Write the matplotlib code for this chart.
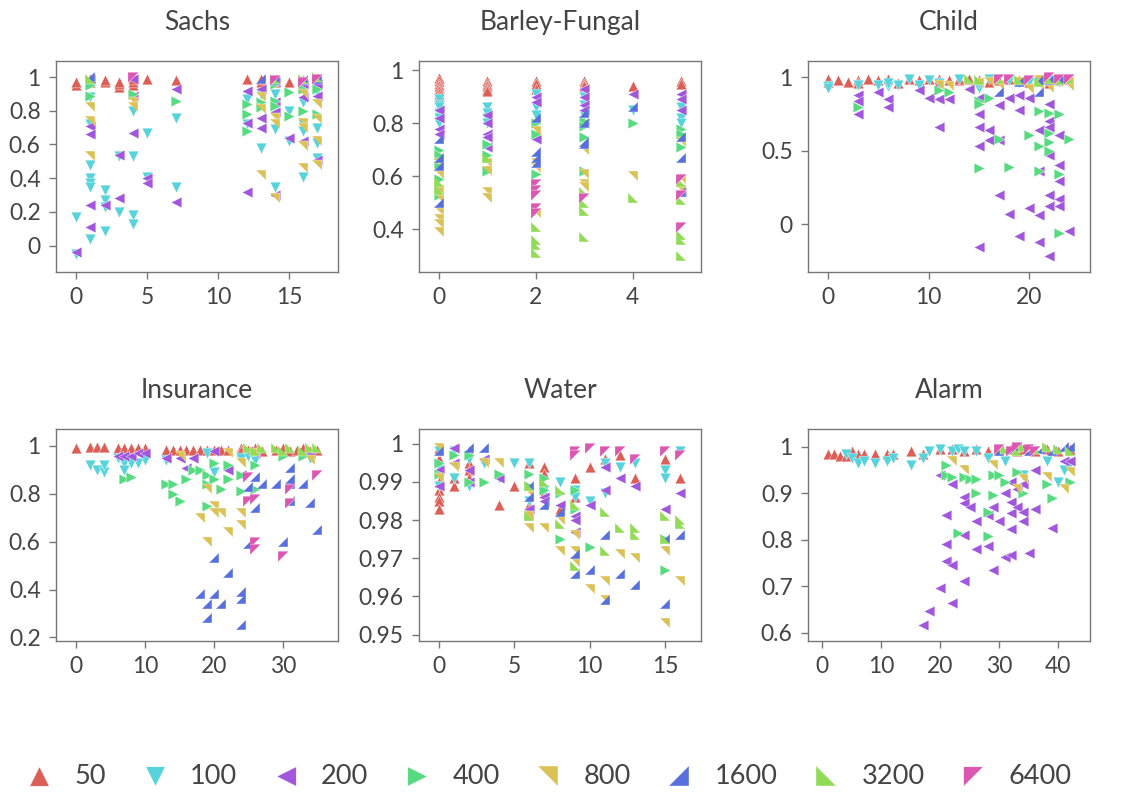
import matplotlib
matplotlib.use('Agg')
import matplotlib.pyplot as plt
import seaborn as sns

# sample sizes and their colours / markers
sizes = [50, 100, 200, 400, 800, 1600, 3200, 6400]
hls = sns.color_palette("hls", 8)
colors = [hls[i] for i in [0, 4, 6, 3, 1, 5, 2, 7]]
markers = ['^', 'v', '<', '>',
           [(-1, 1), (1, 1), (1, -1)],
           [(-1, -1), (1, -1), (1, 1)],
           [(-1, 1), (-1, -1), (1, -1)],
           [(-1, 1), (1, 1), (-1, -1)]]

titles = ['Sachs', 'Barley-Fungal', 'Child', 'Insurance', 'Water', 'Alarm']

# each series: list of (x, [y values])
sachs = {
    50: [(0, [0.95, 0.97]), (1, [0.97, 0.99]), (2, [0.97, 0.98]), (3, [0.94, 0.96, 0.97]), (4, [0.95, 0.97, 0.99]),
         (5, [0.99]), (7, [0.98]), (12, [0.99]), (13, [0.97, 0.99]), (14, [0.97, 0.98]), (15, [0.97]),
         (16, [0.96, 0.98]), (17, [0.95, 0.98])],
    100: [(0, [0.17, -0.05]), (1, [0.88, 0.72, 0.48, 0.40, 0.37, 0.35, 0.04]), (2, [0.33, 0.27, 0.23, 0.09]),
          (3, [0.53, 0.20]), (4, [0.80, 0.53, 0.18, 0.13]), (5, [0.67, 0.41]), (7, [0.76, 0.35]),
          (12, [0.87, 0.72]), (13, [0.90, 0.58]), (14, [0.90, 0.69, 0.35]), (15, [0.80, 0.62]),
          (16, [0.85, 0.72, 0.68, 0.41]), (17, [0.92, 0.70, 0.61, 0.52])],
    200: [(0, [-0.04]), (1, [0.99, 0.71, 0.66, 0.24, 0.11]), (2, [0.24]), (3, [0.54, 0.28]), (4, [0.99, 0.89, 0.67]),
          (5, [0.40, 0.37]), (7, [0.93, 0.26]), (12, [0.92, 0.73, 0.32]), (13, [0.93, 0.76, 0.70]),
          (14, [0.97, 0.85, 0.79, 0.30]), (15, [0.64]), (16, [0.95, 0.88, 0.62]), (17, [0.96, 0.89, 0.51])],
    400: [(1, [0.95, 0.89]), (4, [0.90]), (7, [0.86]), (12, [0.84, 0.78, 0.68]), (13, [0.85, 0.82]),
          (14, [0.96, 0.86, 0.83]), (15, [0.91, 0.77]), (16, [0.93, 0.80]), (17, [0.93, 0.78])],
    800: [(1, [0.82, 0.74, 0.53]), (4, [0.85, 0.82]), (13, [0.88, 0.81, 0.42]), (14, [0.76, 0.72, 0.28]),
          (16, [0.90, 0.73, 0.70, 0.59, 0.46]), (17, [0.84, 0.75, 0.62, 0.48])],
    1600: [(1, [1.0]), (13, [0.99]), (14, [0.98]), (16, [0.98]), (17, [0.99])],
    3200: [(1, [0.99]), (14, [0.99]), (16, [0.99]), (17, [1.0])],
    6400: [(4, [1.0]), (14, [0.98]), (16, [0.97]), (17, [0.99])],
}

barley = {
    50: [(0, [0.97, 0.96, 0.95, 0.94, 0.93, 0.92, 0.91, 0.90]), (1, [0.96, 0.95, 0.94, 0.93, 0.92]),
         (2, [0.96, 0.95, 0.93]), (3, [0.96, 0.95, 0.94]), (4, [0.94]), (5, [0.96, 0.95])],
    100: [(0, [0.89, 0.87, 0.86, 0.84, 0.82, 0.80]), (1, [0.86, 0.84, 0.82, 0.80]), (2, [0.91, 0.86, 0.83, 0.75]),
          (3, [0.90, 0.87, 0.83]), (4, [0.85]), (5, [0.86, 0.82, 0.80])],
    200: [(0, [0.85, 0.82, 0.78, 0.76]), (1, [0.83, 0.80, 0.76, 0.75, 0.71]), (2, [0.90, 0.88, 0.74]),
          (3, [0.93, 0.90, 0.87, 0.85, 0.80]), (4, [0.91]), (5, [0.91, 0.89, 0.85, 0.54])],
    400: [(0, [0.70, 0.68, 0.64, 0.59, 0.56, 0.53]), (1, [0.72, 0.68, 0.62]), (2, [0.80, 0.76, 0.61]),
          (3, [0.81, 0.79, 0.75, 0.62]), (4, [0.80]), (5, [0.78, 0.76, 0.71])],
    800: [(0, [0.65, 0.61, 0.55, 0.52, 0.47, 0.44, 0.42, 0.39]), (1, [0.65, 0.62, 0.54, 0.52]),
          (2, [0.77, 0.65, 0.63, 0.46]), (3, [0.70, 0.61, 0.57, 0.56]), (4, [0.60]), (5, [0.73, 0.59, 0.55])],
    1600: [(0, [0.74, 0.67, 0.64, 0.50]), (2, [0.82, 0.69, 0.67, 0.65]), (3, [0.84, 0.80, 0.73, 0.72]),
           (4, [0.86]), (5, [0.75, 0.67, 0.54])],
    3200: [(0, [0.58, 0.55]), (1, [0.67]), (2, [0.41, 0.36, 0.34, 0.31]), (3, [0.54, 0.50, 0.47, 0.37]),
           (4, [0.52]), (5, [0.58, 0.51, 0.38, 0.36, 0.30])],
    6400: [(2, [0.57, 0.55, 0.53, 0.48, 0.46]), (3, [0.52]), (5, [0.59, 0.53, 0.41])],
}

child = {
    50: [(0, [0.97, 0.99]), (1, [0.98]), (2, [0.97]), (3, [0.98, 0.96]), (4, [0.99]), (5, [0.98]), (6, [0.99]),
         (7, [0.96]), (8, [0.99]), (9, [0.98]), (10, [0.99]), (11, [0.99, 0.97]), (12, [0.98]),
         (13, [0.98, 0.99]), (14, [0.99]), (15, [0.98]), (16, [0.97]), (17, [0.98]), (18, [0.99]),
         (19, [0.98]), (20, [0.97]), (21, [0.98]), (22, [0.99, 0.96]), (23, [0.98]), (24, [0.99])],
    100: [(0, [0.94, 0.93]), (3, [0.95]), (5, [0.95]), (6, [0.94, 0.96]), (7, [0.95]), (8, [0.99]), (9, [0.95]),
          (10, [0.98]), (11, [0.96]), (13, [0.99]), (15, [0.93, 0.96]), (16, [0.99]), (18, [0.98]),
          (19, [0.96]), (20, [0.97]), (21, [0.97]), (22, [0.98]), (23, [0.97]), (24, [0.99])],
    200: [(3, [0.88, 0.84, 0.75]), (5, [0.90]), (6, [0.85, 0.80]), (9, [0.91]), (10, [0.86]), (11, [0.85, 0.66]),
          (12, [0.85]), (14, [0.92]), (15, [0.86, 0.75, 0.66, 0.53, -0.16]), (16, [0.64, 0.57]),
          (17, [0.81, 0.57, 0.20]), (18, [0.86, 0.07]), (19, [0.88, 0.78, -0.08]), (20, [0.86, 0.11]),
          (21, [0.64, 0.36, 0.06, -0.12]), (22, [0.82, 0.70, 0.66, 0.47, 0.20, 0.12, -0.22]),
          (23, [0.61, 0.40, 0.29, 0.17, 0.12]), (24, [-0.05])],
    400: [(3, [0.80]), (11, [0.91]), (12, [0.90]), (15, [0.84, 0.82, 0.38]), (16, [0.86]), (17, [0.58]),
          (18, [0.39]), (20, [0.61]), (21, [0.77, 0.53, 0.36]), (22, [0.76, 0.62, 0.56, 0.50]),
          (23, [0.75, 0.34, -0.06]), (24, [0.58])],
    800: [(11, [0.95]), (12, [0.94]), (15, [0.96]), (16, [0.97]), (17, [0.95]), (19, [0.97]), (20, [0.92]),
          (21, [0.98, 0.95]), (22, [0.93, 0.96]), (23, [0.97]), (24, [0.94, 0.97])],
    1600: [(17, [0.90]), (19, [0.97]), (21, [0.90, 0.98]), (22, [0.98]), (23, [0.99])],
    3200: [(14, [0.99]), (15, [0.98]), (17, [0.99]), (19, [0.98]), (21, [0.97]), (22, [0.99]), (23, [0.98]),
           (24, [0.99])],
    6400: [(17, [0.99]), (18, [0.99]), (20, [0.98]), (22, [1.0]), (23, [0.99]), (24, [0.99])],
}

insurance = {
    50: [(0, [0.99]), (2, [0.995]), (3, [0.995]), (4, [0.995]), (6, [0.99]), (7, [0.99]), (8, [0.99]),
         (9, [0.99]), (10, [0.99]), (13, [0.985]), (14, [0.985]), (15, [0.985]), (16, [0.985]), (17, [0.985]),
         (18, [0.985]), (19, [0.985]), (20, [0.985]), (21, [0.985]), (22, [0.985]), (24, [0.99, 0.98]),
         (25, [0.985]), (26, [0.99]), (27, [0.98]), (29, [0.985]), (30, [0.99]), (31, [0.98]), (32, [0.985]),
         (33, [0.99]), (34, [0.98]), (35, [0.985])],
    100: [(2, [0.92]), (3, [0.90]), (4, [0.89, 0.92]), (6, [0.95]), (7, [0.93, 0.90]), (8, [0.93]), (9, [0.93]),
          (10, [0.94]), (13, [0.94]), (19, [0.97]), (20, [0.89]), (24, [0.95]), (25, [0.96]), (26, [0.94]),
          (34, [0.95])],
    200: [(6, [0.96]), (7, [0.96]), (8, [0.96]), (9, [0.97]), (10, [0.97]), (13, [0.95]), (15, [0.95]),
          (16, [0.91]), (17, [0.95]), (20, [0.98]), (22, [0.90]), (24, [0.88]), (25, [0.98]), (26, [0.97]),
          (34, [0.97])],
    400: [(7, [0.86]), (8, [0.87]), (13, [0.84]), (14, [0.84, 0.80]), (15, [0.77]), (16, [0.86]), (17, [0.90]),
          (18, [0.90]), (19, [0.88, 0.84, 0.75]), (20, [0.93, 0.86]), (21, [0.82]), (22, [0.92, 0.86]),
          (24, [0.88, 0.81]), (26, [0.92, 0.82]), (30, [0.96]), (33, [0.96])],
    800: [(15, [0.96]), (18, [0.70]), (19, [0.82, 0.60]), (20, [0.75, 0.72]), (21, [0.72]), (22, [0.97, 0.64]),
          (24, [0.93, 0.72, 0.67]), (26, [0.97]), (34, [0.94])],
    1600: [(18, [0.38]), (19, [0.34, 0.28]), (20, [0.53, 0.38]), (21, [0.34]), (22, [0.47]),
           (24, [0.39, 0.36, 0.25]), (25, [0.83, 0.59]), (26, [0.87, 0.74]), (27, [0.84]), (29, [0.84]),
           (30, [0.60]), (31, [0.91, 0.86, 0.84, 0.77]), (33, [0.84]), (34, [0.76]), (35, [0.65])],
    3200: [(25, [0.99]), (26, [0.98]), (27, [0.99]), (29, [0.99]), (30, [0.98]), (31, [0.99]), (33, [0.98]),
           (34, [0.99]), (35, [0.99])],
    6400: [(25, [0.87, 0.77]), (26, [0.78, 0.60, 0.57]), (30, [0.54]), (31, [0.82, 0.76]), (35, [0.88])],
}

water = {
    50: [(0, [0.999, 0.996, 0.993, 0.990, 0.988, 0.986, 0.985, 0.983]), (1, [0.991, 0.989]),
         (2, [0.998, 0.995, 0.993, 0.991]), (4, [0.984]), (5, [0.989]), (6, [0.995, 0.984]),
         (7, [0.994, 0.992, 0.987]), (8, [0.983]), (9, [0.991, 0.986]), (10, [0.994]), (11, [0.996]),
         (12, [0.997]), (13, [0.991]), (15, [0.996]), (16, [0.991])],
    100: [(0, [0.998, 0.994, 0.989]), (1, [0.998, 0.991]), (2, [0.996, 0.989]), (3, [0.995]), (4, [0.991]),
          (5, [0.995]), (6, [0.995, 0.985]), (7, [0.988]), (8, [0.990]), (9, [0.988, 0.986]), (10, [0.985]),
          (11, [0.995, 0.987]), (12, [0.994]), (13, [0.995]), (15, [0.993, 0.991]), (16, [0.998])],
    200: [(0, [0.993, 0.989]), (1, [0.999, 0.995]), (2, [0.993, 0.990]), (3, [0.996]), (4, [0.991]),
          (6, [0.983]), (7, [0.986, 0.985]), (8, [0.984]), (9, [0.981, 0.980, 0.977]), (10, [0.984]),
          (11, [0.994, 0.988]), (12, [0.991]), (13, [0.989]), (15, [0.983]), (16, [0.987])],
    400: [(0, [0.995, 0.992]), (1, [0.997]), (2, [0.997, 0.990]), (3, [0.990]), (4, [0.992]),
          (6, [0.992, 0.989]), (7, [0.991, 0.988]), (8, [0.987, 0.975]), (9, [0.988, 0.983]), (10, [0.973]),
          (15, [0.975, 0.967])],
    800: [(0, [0.999, 0.991]), (1, [0.994]), (3, [0.995]), (4, [0.995]), (6, [0.987, 0.981, 0.978]),
          (7, [0.978]), (8, [0.980, 0.972]), (9, [0.976, 0.972, 0.969]), (10, [0.962]), (11, [0.964, 0.959]),
          (12, [0.971]), (13, [0.970]), (15, [0.972, 0.953]), (16, [0.964])],
    1600: [(0, [0.998]), (2, [0.999]), (3, [0.999]), (6, [0.989, 0.986]), (7, [0.984]), (8, [0.982]),
           (9, [0.971, 0.966]), (10, [0.967]), (11, [0.976, 0.959]), (12, [0.966]), (13, [0.963]),
           (15, [0.975, 0.958]), (16, [0.976])],
    3200: [(6, [0.989, 0.981]), (7, [0.990]), (8, [0.988, 0.979]), (9, [0.984, 0.968]), (11, [0.982, 0.972]),
           (12, [0.978]), (13, [0.978, 0.976]), (15, [0.981, 0.975]), (16, [0.980, 0.979])],
    6400: [(9, [0.998, 0.997]), (10, [0.999]), (11, [0.998]), (12, [0.998]), (13, [0.996]), (15, [0.998]),
           (16, [0.997])],
}

alarm = {
    50: [(1, [0.985]), (2, [0.985]), (3, [0.98]), (4, [0.98]), (5, [0.99]), (6, [0.985]), (7, [0.985]),
         (9, [0.985]), (11, [0.985]), (12, [0.985]), (15, [0.99]), (17, [0.985]), (20, [0.995]), (22, [0.995]),
         (24, [0.99]), (26, [0.995]), (28, [0.99]), (30, [0.995]), (32, [0.995]), (33, [0.99]), (34, [0.995]),
         (36, [0.99]), (38, [0.995]), (40, [0.99]), (42, [0.995])],
    100: [(4, [0.985]), (5, [0.975]), (6, [0.965]), (7, [0.97]), (9, [0.965]), (11, [0.97]), (12, [0.975]),
          (15, [0.96]), (17, [0.975]), (18, [0.99]), (20, [0.995]), (22, [0.99]), (23, [0.995]), (24, [0.99]),
          (26, [0.99]), (28, [0.975]), (31, [0.97]), (34, [0.94]), (38, [0.97]), (40, [0.925]), (41, [0.95]),
          (42, [0.965])],
    200: [(17, [0.616]), (18, [0.646]), (20, [0.938, 0.696]), (21, [0.852, 0.79, 0.754]), (22, [0.92, 0.745, 0.664]),
          (24, [0.892, 0.878, 0.81, 0.71]), (25, [0.87]), (26, [0.84, 0.78]), (28, [0.852, 0.786]),
          (29, [0.87, 0.735]), (30, [0.84]), (31, [0.90, 0.763]), (32, [0.925, 0.88, 0.857, 0.822, 0.766]),
          (33, [0.91, 0.87]), (34, [0.92, 0.86, 0.84]), (35, [0.771]), (36, [0.95, 0.865]), (39, [0.825]),
          (41, [0.97]), (42, [0.97])],
    400: [(21, [0.96, 0.94]), (22, [0.935]), (23, [0.815]), (24, [0.935]), (25, [0.93]), (26, [0.93, 0.90]),
          (28, [0.86, 0.808]), (29, [0.94, 0.895]), (30, [0.94]), (31, [0.925]), (33, [0.945]), (34, [0.90]),
          (38, [0.92]), (39, [0.89]), (42, [0.925])],
    800: [(22, [0.97]), (24, [0.95]), (29, [0.96]), (33, [0.91]), (34, [0.93]), (38, [0.935]), (41, [0.91]),
          (42, [0.945])],
    1600: [(30, [0.99]), (32, [0.995]), (33, [1.0]), (35, [0.99]), (37, [0.995]), (39, [0.99]), (41, [1.0]),
           (42, [1.0])],
    3200: [(31, [0.995]), (33, [0.99]), (34, [1.0]), (36, [0.995]), (38, [1.0]), (40, [0.995]), (42, [0.99])],
    6400: [(30, [0.995]), (32, [0.99]), (33, [1.0]), (35, [0.995]), (36, [0.99])],
}

datasets = [sachs, barley, child, insurance, water, alarm]
xlims = [(-1.43, 18.45), (-0.41, 5.41), (-1.99, 26.04), (-2.95, 38.03), (-1.31, 17.37), (-2.43, 45.37)]
ylims = [(-0.156, 1.095), (0.239, 1.035), (-0.327, 1.111), (0.185, 1.071), (0.94833, 1.00385), (0.582, 1.038)]
xticks = [[0, 5, 10, 15], [0, 2, 4], [0, 10, 20], [0, 10, 20, 30], [0, 5, 10, 15], [0, 10, 20, 30, 40]]
yticks = [[0, 0.2, 0.4, 0.6, 0.8, 1], [0.4, 0.6, 0.8, 1], [0, 0.5, 1], [0.2, 0.4, 0.6, 0.8, 1],
          [0.95, 0.96, 0.97, 0.98, 0.99, 1], [0.6, 0.7, 0.8, 0.9, 1]]

plt.rcParams['font.family'] = ['Lato', 'DejaVu Sans']
txt = '#444444'
grey = '#777777'

fig = plt.figure(figsize=(11.22, 7.96), dpi=100)
lefts = [56, 419, 808]
tops = [61, 429]
bottoms = [272, 641]
W, H = 1122, 796

for k, data in enumerate(datasets):
    r, c = divmod(k, 3)
    ax = fig.add_axes([lefts[c] / W, 1 - bottoms[r] / H, 282 / W, (bottoms[r] - tops[r]) / H])
    for i, n in enumerate(sizes):
        xs, ys = [], []
        for x, vals in data[n]:
            for v in vals:
                xs.append(x)
                ys.append(v)
        ax.scatter(xs, ys, marker=markers[i], color=colors[i], s=60, edgecolors='white', linewidths=0.3,
                   label=str(n), zorder=2)
    ax.set_xlim(xlims[k])
    ax.set_ylim(ylims[k])
    ax.set_xticks(xticks[k])
    ax.set_yticks(yticks[k])
    ax.set_yticklabels(['%g' % t for t in yticks[k]])
    ax.set_title(titles[k], fontsize=19, color=txt, pad=22)
    ax.tick_params(labelsize=16.5, colors=grey, labelcolor=txt, length=5, width=1, pad=6)
    for sp in ax.spines.values():
        sp.set_color(grey)
        sp.set_linewidth(1)

handles, labels = fig.axes[0].get_legend_handles_labels()
fig.legend(handles, labels, loc='center', bbox_to_anchor=(0.489, 1 - 776 / H), ncol=8, frameon=False,
           fontsize=19.5, markerscale=1.8, handlelength=1.0, handletextpad=0.8, columnspacing=1.3,
           labelcolor=txt)

fig.savefig('out.png', dpi=100)
